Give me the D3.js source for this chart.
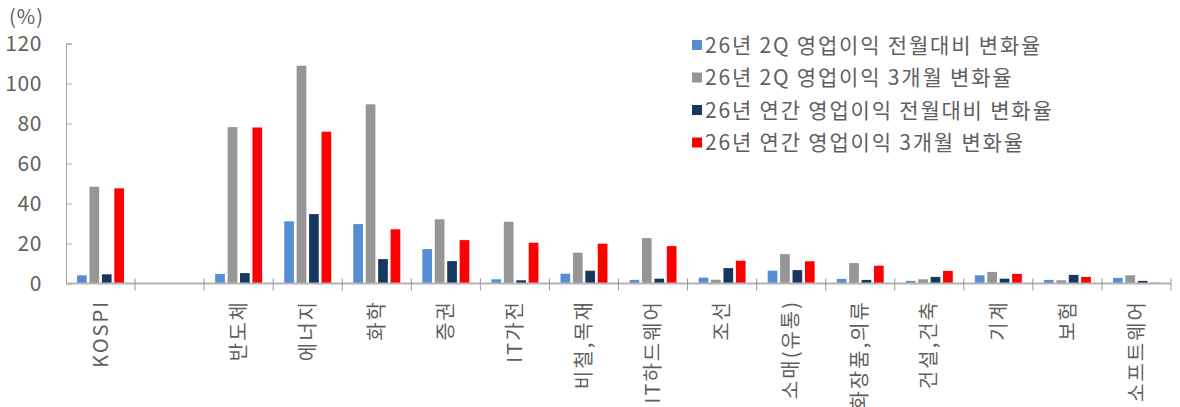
<!DOCTYPE html>
<html>
<head>
<meta charset="utf-8">
<script src="https://cdn.jsdelivr.net/npm/d3@7"></script>
<style>
  body { margin: 0; background: #fff; }
  text { font-family: "Noto Sans CJK KR", "Noto Sans", sans-serif; fill: #5f5f5f; }
</style>
</head>
<body>
<div id="chart"></div>
<script>
// categories (the second one is an empty spacer slot)
var categories = ["KOSPI", "", "반도체", "에너지", "화학", "증권", "IT가전", "비철,목재", "IT하드웨어",
    "조선", "소매(유통)", "화장품,의류", "건설,건축", "기계", "보험", "소프트웨어"];
var seriesNames = ["26년 2Q 영업이익 전월대비 변화율", "26년 2Q 영업이익 3개월 변화율",
    "26년 연간 영업이익 전월대비 변화율", "26년 연간 영업이익 3개월 변화율"];
var seriesColors = ["#558ed5", "#969696", "#17375e", "#ff0000"];
var q2MoM   = [4.1, null, 4.8, 31.1, 29.7, 17.2, 2.1, 4.9, 1.8, 2.9, 6.4, 2.3, 1.3, 4.1, 1.8, 2.8];
var q2ThreeM = [48.4, null, 78.2, 108.9, 89.6, 32.1, 30.9, 15.4, 22.7, 1.9, 14.7, 10.2, 2.1, 5.8, 1.6, 4.1];
var yrMoM   = [4.6, null, 5.2, 34.7, 12.2, 11.2, 1.6, 6.4, 2.4, 7.7, 6.7, 1.8, 3.3, 2.4, 4.3, 1.3];
var yrThreeM = [47.6, null, 78.0, 75.9, 27.1, 21.7, 20.4, 19.9, 18.7, 11.4, 11.1, 8.9, 6.3, 4.8, 3.3, 0.4];
var yTicks = [0, 20, 40, 60, 80, 100, 120];

var width = 1180,
    height = 407,
    axis_left = 66,
    axis_right = 1171,
    y_top = 43.5,
    y_zero = 283.5;

var seriesData = [q2MoM, q2ThreeM, yrMoM, yrThreeM];

var svg = d3.select("#chart").append("svg")
    .attr("width", width)
    .attr("height", height);

// scales
var x0 = d3.scaleBand()
    .domain(d3.range(categories.length))
    .range([axis_left, axis_right])
    .padding(0);
var groupW = x0.bandwidth() * 0.68;
var x1 = d3.scaleBand()
    .domain(d3.range(seriesData.length))
    .range([(x0.bandwidth() - groupW) / 2, (x0.bandwidth() + groupW) / 2])
    .paddingInner(0.22)
    .paddingOuter(0);
var y = d3.scaleLinear()
    .domain([0, 120])
    .range([y_zero, y_top]);

// bars
var bars = svg.append("g").attr("id", "bars");
seriesData.forEach(function(vals, si) {
    bars.selectAll(".s" + si)
        .data(vals.map(function(v, i) { return {i: i, v: v}; }).filter(function(d) { return d.v != null; }))
        .enter().append("rect")
            .attr("class", "s" + si)
            .attr("x", function(d) { return x0(d.i) + x1(si); })
            .attr("width", x1.bandwidth())
            .attr("y", function(d) { return y(d.v); })
            .attr("height", function(d) { return y_zero - y(d.v); })
            .attr("fill", seriesColors[si]);
});

// y axis
var yAxis = d3.axisRight(y)
    .tickValues(yTicks)
    .tickSize(6)
    .tickFormat("");
var gy = svg.append("g")
    .attr("transform", "translate(" + axis_left + ",0)")
    .call(yAxis);
gy.select(".domain").attr("stroke", "#a6a6a6");
gy.selectAll(".tick line").attr("stroke", "#a6a6a6");
svg.append("g").selectAll("text")
    .data(yTicks)
    .enter().append("text")
        .attr("x", 42)
        .attr("y", function(d) { return y(d); })
        .attr("dy", "0.36em")
        .attr("text-anchor", "end")
        .attr("font-size", 21)
        .attr("letter-spacing", 0.6)
        .text(function(d) { return d; });
svg.append("text")
    .attr("x", 9)
    .attr("y", 17)
    .attr("dy", "0.36em")
    .attr("font-size", 20)
    .attr("letter-spacing", 1)
    .text("(%)");

// x axis
var gx = svg.append("g").attr("id", "x-axis");
gx.append("line")
    .attr("x1", axis_left).attr("x2", axis_right)
    .attr("y1", y_zero).attr("y2", y_zero)
    .attr("stroke", "#b3b3b3")
    .attr("stroke-width", 2);
gx.selectAll(".xtick")
    .data(d3.range(1, categories.length + 1))
    .enter().append("line")
        .attr("class", "xtick")
        .attr("x1", function(d) { return axis_left + d * x0.step(); })
        .attr("x2", function(d) { return axis_left + d * x0.step(); })
        .attr("y1", y_zero - 5)
        .attr("y2", y_zero + 7)
        .attr("stroke", "#999");
gx.selectAll(".xlabel")
    .data(categories)
    .enter().append("text")
        .attr("class", "xlabel")
        .attr("transform", function(d, i) {
            return "translate(" + (x0(i) + x0.bandwidth() / 2) + ",300) rotate(-90)";
        })
        .attr("dy", "0.36em")
        .attr("text-anchor", "end")
        .attr("font-size", 20)
        .attr("letter-spacing", 2)
        .text(function(d) { return d; });

// legend
var legend = svg.append("g").attr("id", "legend");
seriesNames.forEach(function(name, i) {
    var ly = 45 + i * 32.5;
    legend.append("rect")
        .attr("x", 692)
        .attr("y", ly - 5)
        .attr("width", 10)
        .attr("height", 10)
        .attr("fill", seriesColors[i]);
    legend.append("text")
        .attr("x", 705)
        .attr("y", ly)
        .attr("dy", "0.36em")
        .attr("font-size", 21)
        .attr("letter-spacing", 1.8)
        .text(name);
});
</script>
</body>
</html>
